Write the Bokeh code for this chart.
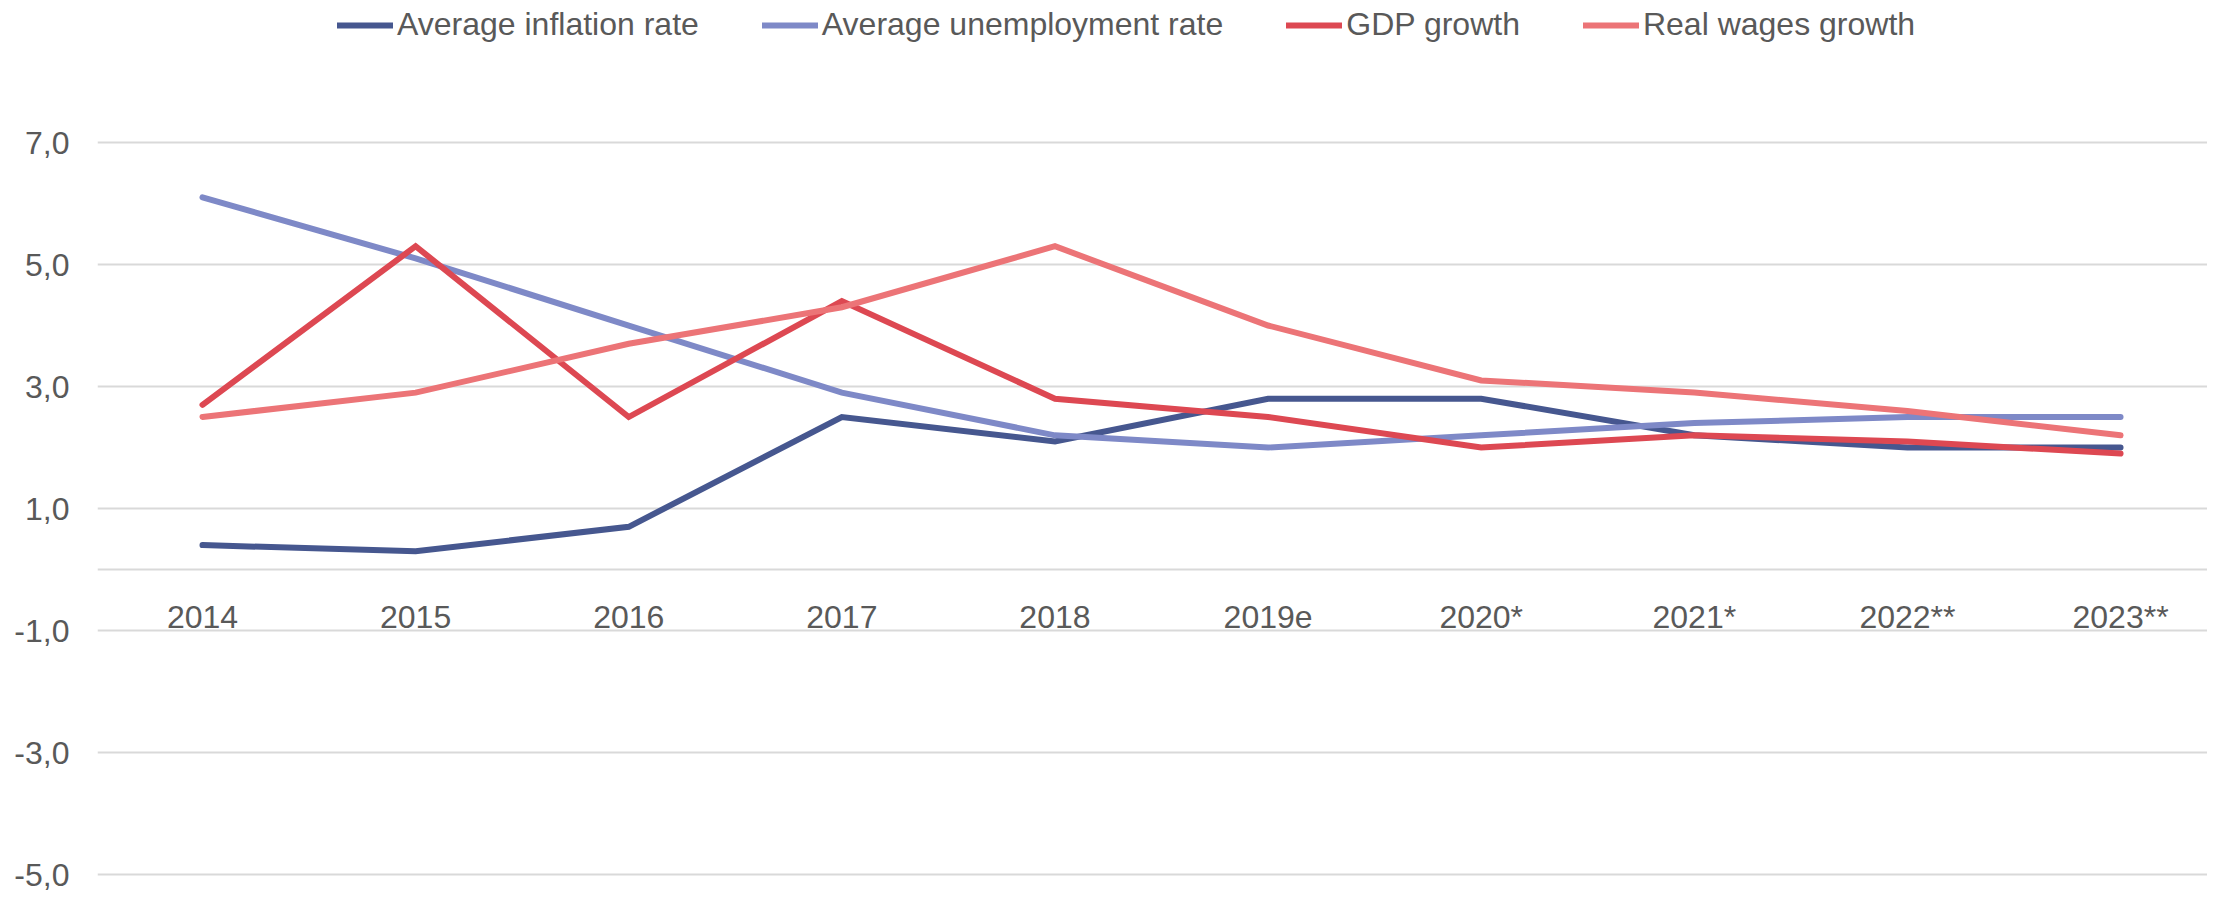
from bokeh.plotting import figure
from bokeh.models import (Range1d, FixedTicker, CustomJSTickFormatter, Span,
                          Legend, LegendItem, ColumnDataSource)
from bokeh.core.properties import value
from bokeh.embed import file_html
from bokeh.resources import INLINE

# ---- data ----
categories = ["2014", "2015", "2016", "2017", "2018", "2019e",
              "2020*", "2021*", "2022**", "2023**"]
inflation = [0.4, 0.3, 0.7, 2.5, 2.1, 2.8, 2.8, 2.2, 2.0, 2.0]
unemployment = [6.1, 5.1, 4.0, 2.9, 2.2, 2.0, 2.2, 2.4, 2.5, 2.5]
gdp_growth = [2.7, 5.3, 2.5, 4.4, 2.8, 2.5, 2.0, 2.2, 2.1, 1.9]
real_wages = [2.5, 2.9, 3.7, 4.3, 5.3, 4.0, 3.1, 2.9, 2.6, 2.2]
y_ticks = [-5, -3, -1, 1, 3, 5, 7]

series = [
    ("Average inflation rate", inflation, "#46578F"),
    ("Average unemployment rate", unemployment, "#7E89C7"),
    ("GDP growth", gdp_growth, "#DD4852"),
    ("Real wages growth", real_wages, "#EC7477"),
]

FONT = "Liberation Sans"
TXT = "#595959"
GRID = "#D9D9D9"
FS = "32px"

xs = list(range(len(categories)))

p = figure(width=2207, height=893, output_backend="svg", toolbar_location=None,
           x_range=Range1d(-0.4927, 9.408), y_range=Range1d(-5.311, 9.328),
           min_border_left=97, min_border_right=0, min_border_top=0,
           min_border_bottom=0)
p.outline_line_color = None
p.background_fill_color = "white"
p.border_fill_color = "white"

# y axis
p.yaxis.ticker = FixedTicker(ticks=y_ticks)
p.yaxis.formatter = CustomJSTickFormatter(code="return tick.toFixed(1).replace('.', ',');")
p.yaxis.axis_line_color = None
p.yaxis.major_tick_line_color = None
p.yaxis.minor_tick_line_color = None
p.yaxis.major_tick_out = 0
p.yaxis.major_tick_in = 0
p.yaxis.major_label_standoff = 28
p.yaxis.major_label_text_font = FONT
p.yaxis.major_label_text_font_size = FS
p.yaxis.major_label_text_color = TXT

p.ygrid.ticker = FixedTicker(ticks=y_ticks)
p.ygrid.grid_line_color = GRID
p.ygrid.grid_line_width = 2
p.xgrid.grid_line_color = None
p.xaxis.visible = False

# zero axis line
p.add_layout(Span(location=0, dimension="width", line_color=GRID, line_width=2))

# category labels along the zero line
lab_src = ColumnDataSource(dict(x=xs, y=[0] * len(xs), t=categories))
p.text(x="x", y="y", text="t", source=lab_src, text_align="center",
       text_baseline="alphabetic", y_offset=47, text_font=value(FONT),
       text_font_size=FS, text_color=TXT)

items = []
for name, vals, color in series:
    r = p.line(xs, vals, line_color=color, line_width=6, line_cap="round",
               line_join="miter")
    items.append(LegendItem(label=name, renderers=[r]))

legend = Legend(items=items, orientation="horizontal", location=(240, 850),
                padding=0, margin=0, spacing=63, label_standoff=4,
                glyph_width=56, glyph_height=36,
                label_text_font=FONT, label_text_font_size=FS,
                label_text_color=TXT, border_line_color=None,
                background_fill_alpha=0)
p.add_layout(legend, "center")

open("out.html", "w").write(file_html(p, INLINE))
